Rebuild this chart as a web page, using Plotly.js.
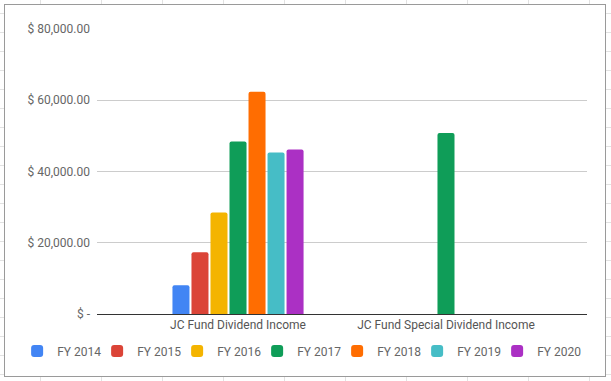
<!DOCTYPE html>
<html>
<head>
<meta charset="utf-8">
<script src="https://cdn.plot.ly/plotly-3.0.1.min.js"></script>
<style>
  html, body { margin: 0; padding: 0; width: 611px; height: 381px; overflow: hidden; }
  body {
    background-color: #ffffff;
    background-image:
      linear-gradient(to right, #e2e2e2 1px, transparent 1px),
      linear-gradient(to bottom, #e2e2e2 1px, transparent 1px);
    background-size: 61px 19px;
    background-position: 40px 13px;
  }
  #frame {
    position: absolute; left: 4px; top: 4px; width: 602px; height: 373px;
    box-sizing: border-box; border: 1px solid #9a9a9a; background: #ffffff;
  }
  #chart { position: absolute; left: 0; top: 0; width: 600px; height: 371px; }
  #chart .legend .scrollbox { clip-path: none !important; }
</style>
</head>
<body>
<div id="frame"><div id="chart"></div></div>
<script>
const categories = ['JC Fund Dividend Income', 'JC Fund Special Dividend Income'];
const seriesNames = ['FY 2014', 'FY 2015', 'FY 2016', 'FY 2017', 'FY 2018', 'FY 2019', 'FY 2020'];
const fy2014 = [8100, null];
const fy2015 = [17300, null];
const fy2016 = [28500, null];
const fy2017 = [48400, 50800];
const fy2018 = [62400, null];
const fy2019 = [45300, null];
const fy2020 = [46200, null];
const seriesValues = [fy2014, fy2015, fy2016, fy2017, fy2018, fy2019, fy2020];
const seriesColors = ['#4285f4', '#db4437', '#f4b400', '#0f9d58', '#ff6d01', '#46bdc6', '#ab30c4'];
const yTickVals = [0, 20000, 40000, 60000, 80000];
const yTickText = ['$ -', '$ 20,000.00', '$ 40,000.00', '$ 60,000.00', '$ 80,000.00'];

const traces = seriesNames.map((name, i) => ({
  type: 'bar',
  name: name,
  x: categories,
  y: seriesValues[i],
  marker: { color: seriesColors[i], line: { width: 0 } },
  hoverinfo: 'skip'
}));

const layout = {
  width: 600,
  height: 371,
  margin: { l: 92, r: 18, t: 24, b: 61 },
  paper_bgcolor: '#ffffff',
  plot_bgcolor: '#ffffff',
  font: { family: 'Roboto, Arial, sans-serif', size: 12, color: '#666666' },
  barmode: 'group',
  bargap: 0.36,
  bargroupgap: 0.105,
  barcornerradius: 2,
  showlegend: true,
  legend: {
    orientation: 'h',
    xref: 'paper', yref: 'paper',
    x: -0.163, xanchor: 'left',
    y: -0.126, yanchor: 'middle',
    entrywidth: 35,
    entrywidthmode: 'pixels',
    itemwidth: 30,
    font: { family: 'Roboto, Arial, sans-serif', size: 12, color: '#666666' },
    bgcolor: 'rgba(0,0,0,0)'
  },
  xaxis: {
    type: 'category',
    range: [-0.678, 1.678],
    showgrid: false,
    zeroline: false,
    showline: true,
    linecolor: '#333333',
    linewidth: 1,
    ticks: '',
    tickfont: { family: 'Roboto, Arial, sans-serif', size: 12, color: '#555555' },
    fixedrange: true
  },
  yaxis: {
    range: [0, 80000],
    tickmode: 'array',
    tickvals: yTickVals,
    ticktext: yTickText,
    showgrid: true,
    gridcolor: '#cccccc',
    gridwidth: 1,
    zeroline: false,
    showline: false,
    ticks: '',
    ticklabelstandoff: 6,
    tickfont: { family: 'Roboto, Arial, sans-serif', size: 12, color: '#666666' },
    fixedrange: true
  }
};

Plotly.newPlot('chart', traces, layout, { staticPlot: true, displayModeBar: false });
</script>
</body>
</html>
